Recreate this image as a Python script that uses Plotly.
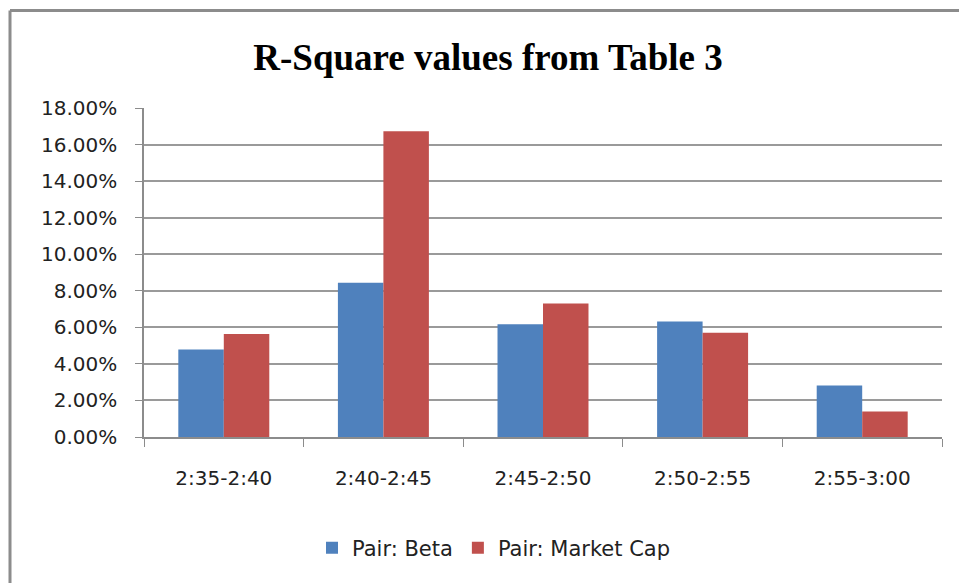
import plotly.graph_objects as go

categories = ["2:35-2:40", "2:40-2:45", "2:45-2:50", "2:50-2:55", "2:55-3:00"]
beta = [0.0479, 0.0844, 0.0617, 0.0632, 0.0282]
market_cap = [0.0563, 0.1673, 0.0731, 0.0570, 0.0139]
y_ticks = [0.0, 0.02, 0.04, 0.06, 0.08, 0.10, 0.12, 0.14, 0.16, 0.18]

W, H = 959, 583
L, R, T, B = 144, 942, 108, 437

fig = go.Figure()
fig.add_trace(go.Bar(x=categories, y=beta, name="Pair: Beta",
                     marker=dict(color="#4F81BD", line=dict(width=0))))
fig.add_trace(go.Bar(x=categories, y=market_cap, name="Pair: Market Cap",
                     marker=dict(color="#C0504D", line=dict(width=0))))

def px_x(x):
    return (x - L) / (R - L)

def px_y(y):
    return (B - y) / (B - T)

frame = dict(color="#8c8c8c", width=3)
fig.add_shape(type="line", xref="paper", yref="paper",
              x0=px_x(10), x1=px_x(990), y0=px_y(10.5), y1=px_y(10.5), line=frame, layer="below")
fig.add_shape(type="line", xref="paper", yref="paper",
              x0=px_x(10), x1=px_x(10), y0=px_y(10.5), y1=px_y(620), line=frame, layer="below")

tick_font = dict(family="DejaVu Sans", size=20, color="#222222")

fig.update_layout(
    width=W, height=H,
    margin=dict(l=L, r=W - R, t=T, b=H - B),
    paper_bgcolor="white", plot_bgcolor="white",
    barmode="group", bargap=0.43, bargroupgap=0,
    title=dict(text="<b>R-Square values from Table 3</b>", x=488 / W, xanchor="center",
               y=1 - 57 / H, yanchor="middle",
               font=dict(family="Liberation Serif", size=37, color="black")),
    font=tick_font,
    legend=dict(orientation="h", x=494 / W, xref="container", xanchor="center",
                y=1 - 548 / H, yref="container", yanchor="middle",
                font=dict(family="DejaVu Sans", size=21, color="#222222"),
                itemwidth=30, traceorder="normal"),
    xaxis=dict(type="category", showgrid=False, showline=True, linecolor="#8c8c8c", linewidth=1.5,
               ticks="outside", tickson="boundaries", ticklen=8, tickcolor="#8c8c8c",
               tickfont=tick_font, ticklabelstandoff=22),
    yaxis=dict(range=[0, 0.18], tickvals=y_ticks, tickformat=".2%", showgrid=True,
               gridcolor="#9a9a9a", gridwidth=1.5, showline=True, linecolor="#8c8c8c", linewidth=1.5,
               ticks="outside", ticklen=7, tickcolor="#8c8c8c", zeroline=False,
               tickfont=tick_font, ticklabelstandoff=14),
)

fig.write_html("out.html", config={"displayModeBar": False},
               post_script="document.body.style.margin='0';document.body.style.overflow='hidden';")
